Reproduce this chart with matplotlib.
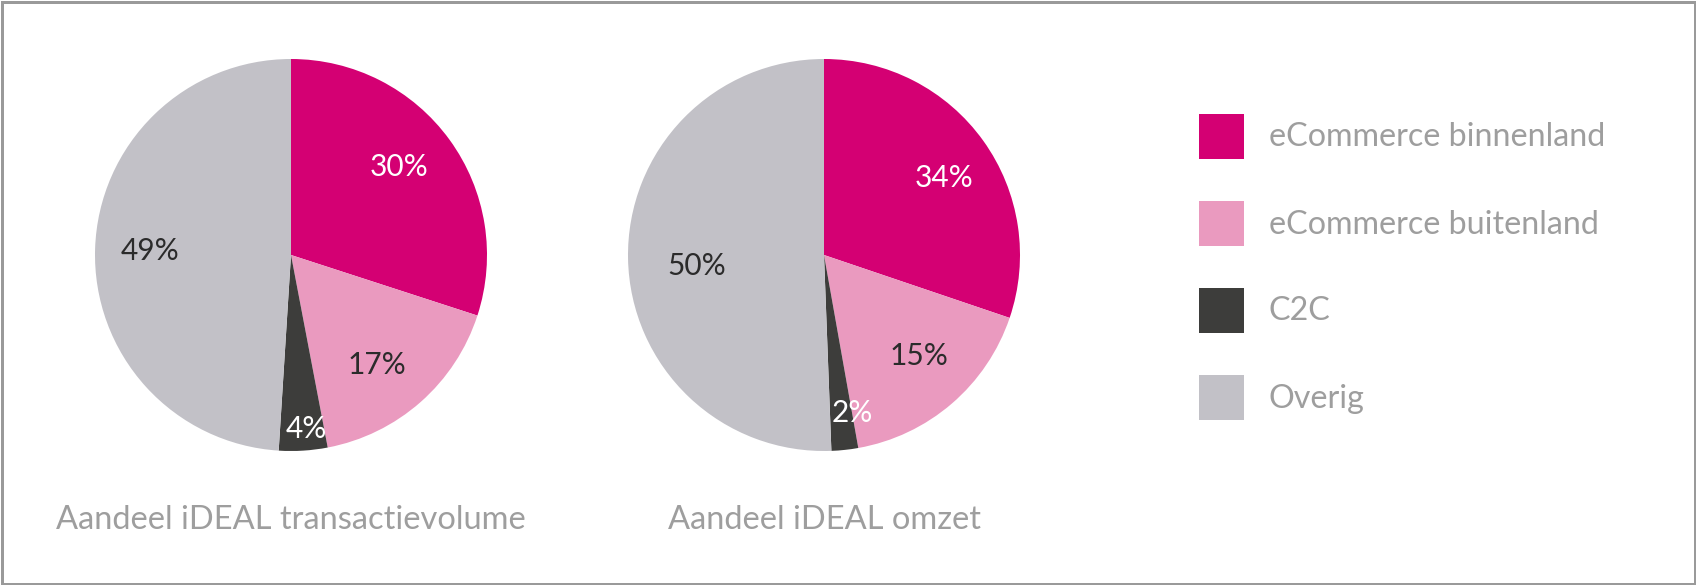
import matplotlib
matplotlib.use("Agg")
import matplotlib.pyplot as plt
from matplotlib.patches import Rectangle
import numpy as np

# ---- data ----
categories = ["eCommerce binnenland", "eCommerce buitenland", "C2C", "Overig"]
colors = ["#D40073", "#EA9ABF", "#3D3D3B", "#C2C1C7"]

titles = ["Aandeel iDEAL transactievolume", "Aandeel iDEAL omzet"]
# wedge sizes as drawn in the picture (percent)
volume_values = [30, 17, 4, 49]
omzet_values = [30.2, 17.0, 2.2, 50.6]
# printed labels
volume_labels = ["30%", "17%", "4%", "49%"]
omzet_labels = ["34%", "15%", "2%", "50%"]

W, H = 1696, 585
fig = plt.figure(figsize=(W / 100, H / 100), dpi=100)
fig.patch.set_facecolor("white")

FONT = ["Lato", "DejaVu Sans"]
TXT_GRAY = "#9E9E9E"
label_colors = ["white", "#2B2B2B", "white", "#2B2B2B"]

# pie geometry in pixels (layout)
R = 196
pies = [
    dict(cx=291, cy=255, values=volume_values, labels=volume_labels,
         dist=[0.71, 0.71, 0.89, 0.72], off=[3, -3.4, 1.5, 0], title=titles[0]),
    dict(cx=824, cy=255, values=omzet_values, labels=omzet_labels,
         dist=[0.73, 0.71, 0.82, 0.65], off=[-3, 2.6, 4.2, 4], title=titles[1]),
]

for p in pies:
    left = (p["cx"] - R) / W
    bottom = (H - p["cy"] - R) / H
    ax = fig.add_axes([left, bottom, 2 * R / W, 2 * R / H])
    wedges, _ = ax.pie(p["values"], colors=colors, startangle=90,
                       counterclock=False, radius=1,
                       wedgeprops=dict(linewidth=0, edgecolor="none"))
    for w, lab, d, o, c in zip(wedges, p["labels"], p["dist"], p["off"], label_colors):
        ang = np.deg2rad((w.theta1 + w.theta2) / 2 + o)
        ax.text(d * np.cos(ang), d * np.sin(ang), lab, ha="center", va="center",
                fontsize=21.5, color=c, family=FONT, fontweight="normal")
    ax.set_xlim(-1, 1)
    ax.set_ylim(-1, 1)
    ax.set_aspect("equal")
    ax.axis("off")
    fig.text(p["cx"] / W, (H - 529) / H, p["title"], ha="center", va="baseline",
             fontsize=23.5, color=TXT_GRAY, family=FONT, fontweight="normal")

# legend (manual, square swatches)
sq_left, sq_size = 1199, 45
row_tops = [114, 201, 288, 375]
for cat, col, top in zip(categories, colors, row_tops):
    fig.patches.append(Rectangle((sq_left / W, (H - top - sq_size) / H),
                                 sq_size / W, sq_size / H,
                                 transform=fig.transFigure, facecolor=col,
                                 edgecolor="none"))
    fig.text(1269 / W, (H - (top + sq_size / 2 + 10)) / H, cat,
             ha="left", va="baseline", fontsize=23.2, color=TXT_GRAY,
             family=FONT, fontweight="normal")

# outer border
bw = 3
fig.patches.append(Rectangle((bw / 2 / W, bw / 2 / H), 1 - bw / W, 1 - bw / H,
                             transform=fig.transFigure, facecolor="none",
                             edgecolor="#9A9A9A", linewidth=bw * 0.72))

fig.savefig("out.png", dpi=100, facecolor="white")
